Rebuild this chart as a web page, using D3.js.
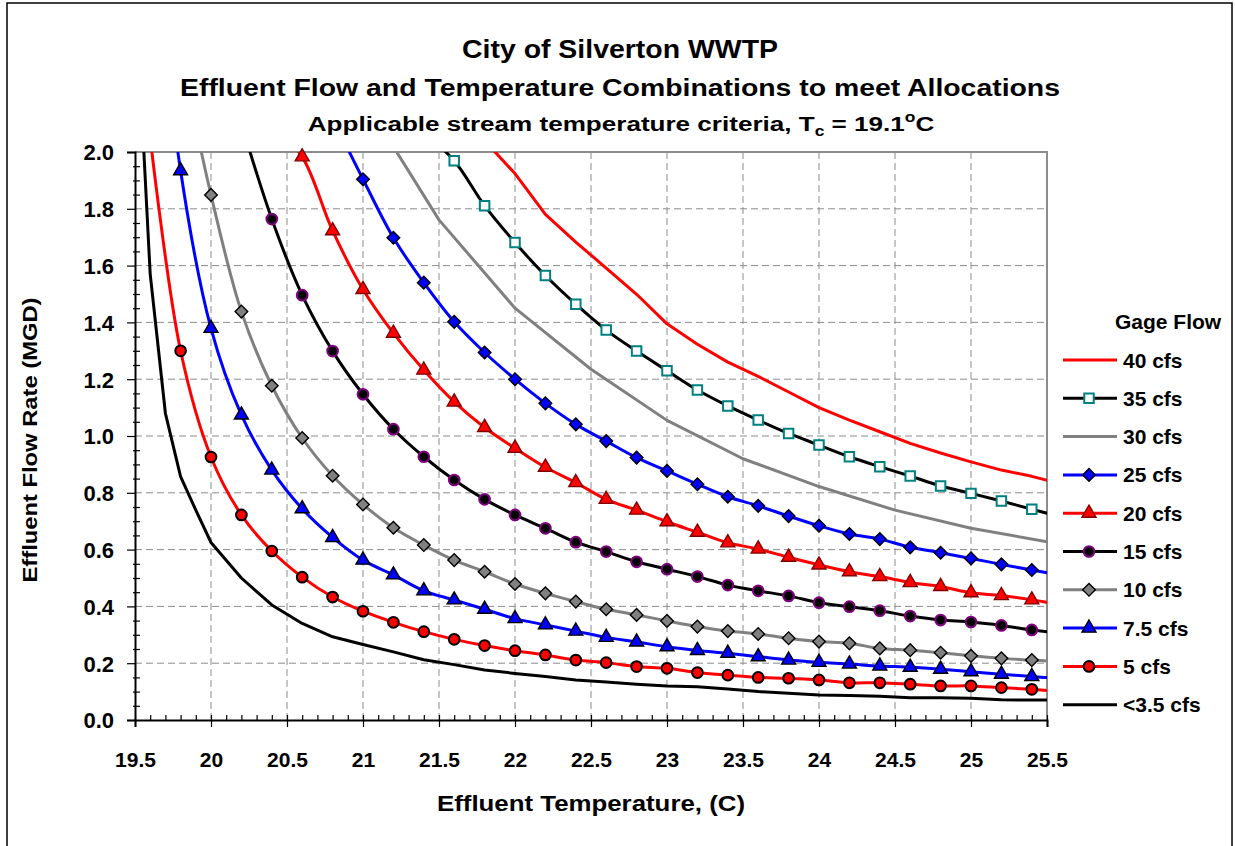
<!DOCTYPE html>
<html>
<head>
<meta charset="utf-8">
<script src="https://cdn.jsdelivr.net/npm/d3@7"></script>
<style>
body { margin: 0; background: #fff; }
text { font-family: "Liberation Sans", Arial, sans-serif; font-weight: bold; fill: #000; }
</style>
</head>
<body>
<script>
// axis ticks
var xTicks = [19.5, 20, 20.5, 21, 21.5, 22, 22.5, 23, 23.5, 24, 24.5, 25, 25.5];
var yTicks = [0, 0.2, 0.4, 0.6, 0.8, 1.0, 1.2, 1.4, 1.6, 1.8, 2.0];

// gage flow curves, temperature (C) vs effluent flow (MGD)
var t40 = [21.8, 22.0, 22.2, 22.4, 22.6, 22.8, 23.0, 23.2, 23.4, 23.6, 23.8, 24.0, 24.2, 24.4, 24.6, 24.8, 25.0, 25.2, 25.4, 25.6];
var q40 = [2.04, 1.924, 1.78, 1.683, 1.591, 1.499, 1.395, 1.323, 1.26, 1.21, 1.155, 1.10, 1.056, 1.015, 0.974, 0.94, 0.909, 0.88, 0.858, 0.83];

var t35 = [21.4, 21.6, 21.8, 22.0, 22.2, 22.4, 22.6, 22.8, 23.0, 23.2, 23.4, 23.6, 23.8, 24.0, 24.2, 24.4, 24.6, 24.8, 25.0, 25.2, 25.4, 25.6];
var q35 = [2.07, 1.969, 1.811, 1.681, 1.565, 1.464, 1.373, 1.299, 1.230, 1.162, 1.106, 1.056, 1.009, 0.968, 0.927, 0.892, 0.859, 0.824, 0.798, 0.771, 0.742, 0.715];

var t30 = [21.0, 21.5, 22.0, 22.5, 23.0, 23.5, 24.0, 24.5, 25.0, 25.5];
var q30 = [2.19, 1.761, 1.45, 1.235, 1.055, 0.92, 0.822, 0.739, 0.675, 0.628];

var t25 = [20.8, 21.0, 21.2, 21.4, 21.6, 21.8, 22.0, 22.2, 22.4, 22.6, 22.8, 23.0, 23.2, 23.4, 23.6, 23.8, 24.0, 24.2, 24.4, 24.6, 24.8, 25.0, 25.2, 25.4, 25.6];
var q25 = [2.12, 1.904, 1.698, 1.540, 1.402, 1.294, 1.200, 1.115, 1.041, 0.982, 0.924, 0.877, 0.830, 0.786, 0.754, 0.718, 0.684, 0.655, 0.637, 0.608, 0.589, 0.569, 0.548, 0.528, 0.510];

var t20 = [20.4, 20.6, 20.8, 21.0, 21.2, 21.4, 21.6, 21.8, 22.0, 22.2, 22.4, 22.6, 22.8, 23.0, 23.2, 23.4, 23.6, 23.8, 24.0, 24.2, 24.4, 24.6, 24.8, 25.0, 25.2, 25.4, 25.6];
var q20 = [2.1, 1.983, 1.723, 1.516, 1.362, 1.232, 1.12, 1.03, 0.957, 0.890, 0.836, 0.777, 0.739, 0.698, 0.661, 0.624, 0.602, 0.573, 0.546, 0.522, 0.505, 0.484, 0.470, 0.448, 0.438, 0.423, 0.405];

var t15 = [20.2, 20.4, 20.6, 20.8, 21.0, 21.2, 21.4, 21.6, 21.8, 22.0, 22.2, 22.4, 22.6, 22.8, 23.0, 23.2, 23.4, 23.6, 23.8, 24.0, 24.2, 24.4, 24.6, 24.8, 25.0, 25.2, 25.4, 25.6];
var q15 = [2.1, 1.764, 1.496, 1.299, 1.147, 1.024, 0.927, 0.845, 0.777, 0.722, 0.675, 0.626, 0.593, 0.557, 0.531, 0.505, 0.475, 0.455, 0.437, 0.413, 0.399, 0.385, 0.366, 0.352, 0.345, 0.333, 0.317, 0.305];

var t10 = [19.8, 20.0, 20.2, 20.4, 20.6, 20.8, 21.0, 21.2, 21.4, 21.6, 21.8, 22.0, 22.2, 22.4, 22.6, 22.8, 23.0, 23.2, 23.4, 23.6, 23.8, 24.0, 24.2, 24.4, 24.6, 24.8, 25.0, 25.2, 25.4, 25.6];
var q10 = [2.35, 1.849, 1.438, 1.177, 0.993, 0.860, 0.759, 0.677, 0.616, 0.563, 0.522, 0.479, 0.446, 0.417, 0.390, 0.370, 0.349, 0.329, 0.313, 0.303, 0.288, 0.276, 0.270, 0.252, 0.246, 0.237, 0.226, 0.217, 0.211, 0.204];

var t75 = [19.6, 19.8, 20.0, 20.2, 20.4, 20.6, 20.8, 21.0, 21.2, 21.4, 21.6, 21.8, 22.0, 22.2, 22.4, 22.6, 22.8, 23.0, 23.2, 23.4, 23.6, 23.8, 24.0, 24.2, 24.4, 24.6, 24.8, 25.0, 25.2, 25.4, 25.6];
var q75 = [2.9, 1.934, 1.379, 1.074, 0.880, 0.744, 0.643, 0.563, 0.511, 0.455, 0.423, 0.390, 0.357, 0.335, 0.313, 0.291, 0.275, 0.258, 0.245, 0.235, 0.223, 0.211, 0.203, 0.197, 0.190, 0.186, 0.179, 0.170, 0.161, 0.153, 0.146];

var t5 = [19.6, 19.8, 20.0, 20.2, 20.4, 20.6, 20.8, 21.0, 21.2, 21.4, 21.6, 21.8, 22.0, 22.2, 22.4, 22.6, 22.8, 23.0, 23.2, 23.4, 23.6, 23.8, 24.0, 24.2, 24.4, 24.6, 24.8, 25.0, 25.2, 25.4, 25.6];
var q5 = [2.05, 1.30, 0.926, 0.722, 0.595, 0.503, 0.433, 0.383, 0.344, 0.311, 0.284, 0.262, 0.244, 0.229, 0.211, 0.202, 0.188, 0.182, 0.167, 0.158, 0.150, 0.147, 0.141, 0.131, 0.131, 0.126, 0.120, 0.120, 0.114, 0.108, 0.100];

var t35lt = [19.5, 19.6, 19.7, 19.8, 19.9, 20.0, 20.2, 20.4, 20.6, 20.8, 21.0, 21.2, 21.4, 21.6, 21.8, 22.0, 22.2, 22.4, 22.6, 22.8, 23.0, 23.2, 23.4, 23.6, 23.8, 24.0, 24.2, 24.4, 24.6, 24.8, 25.0, 25.2, 25.4, 25.6];
var q35lt = [2.6, 1.57, 1.08, 0.857, 0.739, 0.625, 0.50, 0.405, 0.34, 0.293, 0.266, 0.24, 0.212, 0.195, 0.176, 0.164, 0.153, 0.141, 0.134, 0.126, 0.120, 0.117, 0.109, 0.100, 0.094, 0.088, 0.086, 0.084, 0.078, 0.078, 0.077, 0.071, 0.070, 0.070];

var series = [
    {name: '40 cfs',   t: t40,   q: q40,   color: '#FF0000', marker: null},
    {name: '35 cfs',   t: t35,   q: q35,   color: '#000000', marker: 'square',   fill: '#FFFFFF', edge: '#008080'},
    {name: '30 cfs',   t: t30,   q: q30,   color: '#808080', marker: null},
    {name: '25 cfs',   t: t25,   q: q25,   color: '#0000FF', marker: 'diamond',  fill: '#0000FF', edge: '#000000'},
    {name: '20 cfs',   t: t20,   q: q20,   color: '#FF0000', marker: 'triangle', fill: '#FF0000', edge: '#800000'},
    {name: '15 cfs',   t: t15,   q: q15,   color: '#000000', marker: 'circle',   fill: '#000000', edge: '#800080'},
    {name: '10 cfs',   t: t10,   q: q10,   color: '#808080', marker: 'diamond',  fill: '#808080', edge: '#000000'},
    {name: '7.5 cfs',  t: t75,   q: q75,   color: '#0000FF', marker: 'triangle', fill: '#0000FF', edge: '#000000'},
    {name: '5 cfs',    t: t5,    q: q5,    color: '#FF0000', marker: 'circle',   fill: '#FF0000', edge: '#000000'},
    {name: '<3.5 cfs', t: t35lt, q: q35lt, color: '#000000', marker: null}
];

var margin = {top: 152, left: 135};
var width = 912, height = 568;

var svg = d3.select('body').append('svg')
        .attr('width', 1235)
        .attr('height', 846);

// chart frame
svg.append('rect')
    .attr('x', 7).attr('y', 3)
    .attr('width', 1225).attr('height', 900)
    .attr('fill', 'none')
    .attr('stroke', '#000')
    .attr('stroke-width', 1.5);

var x = d3.scaleLinear().domain([19.5, 25.5]).range([0, width]);
var y = d3.scaleLinear().domain([0, 2]).range([height, 0]);

var g = svg.append('g').attr('transform', 'translate(' + margin.left + ',' + margin.top + ')');

g.append('clipPath').attr('id', 'plotclip')
    .append('rect').attr('width', width).attr('height', height);

// dashed grid
g.append('g').selectAll('line').data(xTicks.slice(1, -1)).enter().append('line')
    .attr('x1', function(d) { return x(d); }).attr('x2', function(d) { return x(d); })
    .attr('y1', 0).attr('y2', height)
    .attr('stroke', '#8c8c8c').attr('stroke-width', 1).attr('stroke-dasharray', '7,4');
g.append('g').selectAll('line').data(yTicks.slice(1, -1)).enter().append('line')
    .attr('y1', function(d) { return y(d); }).attr('y2', function(d) { return y(d); })
    .attr('x1', 0).attr('x2', width)
    .attr('stroke', '#8c8c8c').attr('stroke-width', 1).attr('stroke-dasharray', '7,4');

// top and right border
g.append('path')
    .attr('d', 'M0,0H' + width + 'V' + height)
    .attr('fill', 'none').attr('stroke', '#8c8c8c').attr('stroke-width', 2);

// minor ticks
var xMinor = d3.range(196, 255).map(function(v) { return v / 10; }).filter(function(v) { return Math.abs(v * 2 - Math.round(v * 2)) > 1e-6; });
var yMinor = d3.range(1, 40).map(function(v) { return v / 20; }).filter(function(v) { return v * 5 % 1 !== 0; });

var xMinorAxis = g.append('g').attr('transform', 'translate(0,' + height + ')')
    .call(d3.axisBottom(x).tickValues(xMinor).tickSize(-5).tickFormat(''));
xMinorAxis.select('.domain').remove();
var yMinorAxis = g.append('g')
    .call(d3.axisLeft(y).tickValues(yMinor).tickSize(-5).tickFormat(''));
yMinorAxis.select('.domain').remove();
yMinorAxis.selectAll('.tick line').attr('x1', -2);

// major axes
var xaxis = g.append('g').attr('transform', 'translate(0,' + height + ')')
    .call(d3.axisBottom(x).tickValues(xTicks).tickSize(7).tickPadding(25)
        .tickFormat(function(d) { return String(d); }));
xaxis.selectAll('.tick line').attr('y1', -5);
xaxis.selectAll('text').style('font-size', '21px').attr('fill', '#000');
var yaxis = g.append('g')
    .call(d3.axisLeft(y).tickValues(yTicks).tickSize(8).tickPadding(13)
        .tickFormat(d3.format('.1f')));
yaxis.selectAll('text').style('font-size', '22px').attr('fill', '#000').attr('dy', '0.36em');
g.selectAll('.domain').attr('stroke', '#000').attr('stroke-width', 2);
g.selectAll('.tick line').attr('stroke', '#000').attr('stroke-width', 1.2);

// marker shapes
function markerPath(kind) {
    if (kind === 'circle') return d3.symbol(d3.symbolCircle, 90)();
    if (kind === 'square') return d3.symbol(d3.symbolSquare, 90)();
    if (kind === 'triangle') return d3.symbol(d3.symbolTriangle, 85)();
    return d3.symbol(d3.symbolSquare, 80)();
}
function drawMarker(sel, s, cx, cy) {
    sel.append('path')
        .attr('d', markerPath(s.marker))
        .attr('transform', 'translate(' + cx + ',' + cy + ')' + (s.marker === 'diamond' ? ' rotate(45)' : ''))
        .attr('fill', s.fill)
        .attr('stroke', s.edge)
        .attr('stroke-width', s.marker === 'square' || s.marker === 'circle' ? 2 : 1.4);
}

var plot = g.append('g').attr('clip-path', 'url(#plotclip)');

series.slice().reverse().forEach(function(s) {
    var pts = s.t.map(function(t, i) { return [t, s.q[i]]; });
    var line = d3.line()
        .x(function(d) { return x(d[0]); })
        .y(function(d) { return y(d[1]); })
        .curve(s.marker ? d3.curveCatmullRom.alpha(0.5) : d3.curveLinear);
    plot.append('path')
        .datum(pts)
        .attr('fill', 'none')
        .attr('stroke', s.color)
        .attr('stroke-width', 3)
        .attr('stroke-linejoin', 'round')
        .attr('d', line);
    if (s.marker) {
        var mg = g.append('g');
        pts.filter(function(d) { return d[1] <= 2.0 && d[0] <= 25.5; }).forEach(function(d) {
            drawMarker(mg, s, x(d[0]), y(d[1]));
        });
    }
});

// stretch a text horizontally to a target width around its centre
function fitWidth(sel, cx, target) {
    var w = sel.node().getBBox().width;
    sel.attr('transform', 'translate(' + cx + ',0) scale(' + (target / w) + ',1) translate(' + (-cx) + ',0)');
}

// titles
svg.append('text').attr('x', 620).attr('y', 58).attr('text-anchor', 'middle')
    .style('font-size', '25px').attr('textLength', 316).attr('lengthAdjust', 'spacingAndGlyphs')
    .text('City of Silverton WWTP');
svg.append('text').attr('x', 620).attr('y', 96).attr('text-anchor', 'middle')
    .style('font-size', '23px').attr('textLength', 880).attr('lengthAdjust', 'spacingAndGlyphs')
    .text('Effluent Flow and Temperature Combinations to meet Allocations');
var t3 = svg.append('text').attr('x', 621).attr('y', 131).attr('text-anchor', 'middle')
    .style('font-size', '21px');
t3.append('tspan').text('Applicable stream temperature criteria, T');
t3.append('tspan').attr('dy', 5).style('font-size', '14px').text('c');
t3.append('tspan').attr('dy', -5).text(' = 19.1');
t3.append('tspan').attr('dy', -9).style('font-size', '14px').text('o');
t3.append('tspan').attr('dy', 9).text('C');
fitWidth(t3, 621, 627);

// axis titles
svg.append('text').attr('x', 591).attr('y', 811).attr('text-anchor', 'middle')
    .style('font-size', '22px').attr('textLength', 308).attr('lengthAdjust', 'spacingAndGlyphs')
    .text('Effluent Temperature, (C)');
svg.append('text').attr('transform', 'translate(37,440) rotate(-90)').attr('text-anchor', 'middle')
    .style('font-size', '21px').attr('textLength', 285).attr('lengthAdjust', 'spacingAndGlyphs')
    .text('Effluent Flow Rate (MGD)');

// legend
var legend = svg.append('g').attr('transform', 'translate(1063,0)');
legend.append('text').attr('x', 52).attr('y', 329).style('font-size', '21px').text('Gage Flow');
series.forEach(function(s, i) {
    var cy = 360 + i * 38.3;
    var item = legend.append('g');
    item.append('line').attr('x1', 0).attr('x2', 54).attr('y1', cy).attr('y2', cy)
        .attr('stroke', s.color).attr('stroke-width', 3);
    if (s.marker) drawMarker(item, s, 26, cy);
    item.append('text').attr('x', 60).attr('y', cy + 7.5).style('font-size', '21px').text(s.name);
});
</script>
</body>
</html>
